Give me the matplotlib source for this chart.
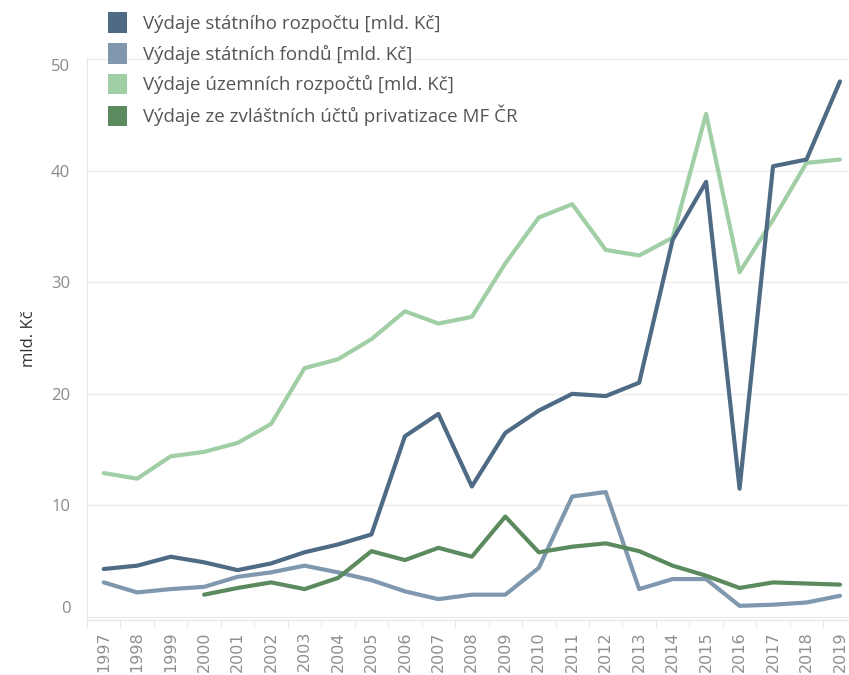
import matplotlib.pyplot as plt
from matplotlib.patches import Patch
import numpy as np

years = [str(y) for y in range(1997, 2020)]

statni_rozpocet = [4.3, 4.6, 5.4, 4.9, 4.2, 4.8, 5.8, 6.5, 7.4, 16.2, 18.2, 11.7,
                   16.5, 18.5, 20.0, 19.8, 21.0, 33.8, 39.0, 11.5, 40.4, 41.0, 48.0]
statni_fondy = [3.1, 2.2, 2.5, 2.7, 3.6, 4.0, 4.6, 4.0, 3.3, 2.3, 1.6, 2.0,
                2.0, 4.4, 10.8, 11.2, 2.5, 3.4, 3.4, 1.0, 1.1, 1.3, 1.9]
uzemni_rozpocty = [12.9, 12.4, 14.4, 14.8, 15.6, 17.3, 22.3, 23.1, 24.9, 27.4, 26.3, 26.9,
                   31.7, 35.8, 37.0, 32.9, 32.4, 34.0, 45.1, 30.9, 35.6, 40.7, 41.0]
# privatization accounts start in 2000
privatizace = [np.nan, np.nan, np.nan, 2.0, 2.6, 3.1, 2.5, 3.5, 5.9, 5.1, 6.2, 5.4,
               9.0, 5.8, 6.3, 6.6, 5.9, 4.6, 3.7, 2.6, 3.1, 3.0, 2.9]

labels = [
    "Výdaje státního rozpočtu [mld. Kč]",
    "Výdaje státních fondů [mld. Kč]",
    "Výdaje územních rozpočtů [mld. Kč]",
    "Výdaje ze zvláštních účtů privatizace MF ČR",
]
colors = ["#4e6a84", "#7f98ae", "#a0cfa5", "#5b8a5f"]

plt.rcParams["font.family"] = ["Open Sans", "DejaVu Sans"]

fig = plt.figure(figsize=(8.49, 6.75), dpi=100)
ax = fig.add_axes([87 / 849, 55 / 675, 762 / 849, (620 - 58) / 675])

x = np.arange(len(years))
series = [statni_rozpocet, statni_fondy, uzemni_rozpocty, privatizace]
order = [2, 1, 3, 0]  # draw order: dark line on top
for i in order:
    ax.plot(x, series[i], color=colors[i], linewidth=3.0, solid_capstyle="round",
            solid_joinstyle="round", zorder=3 + (i == 0))

ax.set_xlim(-0.48, 22.27)
ax.set_ylim(-0.27, 50.1)
ax.set_yticks([0, 10, 20, 30, 40, 50])
ax.set_xticks(x)
ax.set_xticklabels(years, rotation=90, fontsize=11.5, color="#8f8f8f", family="DejaVu Sans")
ax.set_xticks(np.arange(-0.5, 22.5, 1), minor=True)
ax.tick_params(axis="x", which="major", length=0, pad=8)
ax.tick_params(axis="x", which="minor", length=6, color="#e6e6e6")
ax.tick_params(axis="y", length=0, labelsize=12, labelcolor="#8a8a8a", pad=12)
ax.set_ylabel("mld. Kč", fontsize=12, color="#333333", labelpad=10)

# Tableau keeps the edge labels inside the pane
ylabels = ax.get_yticklabels()
ylabels[0].set_verticalalignment("bottom")
ylabels[-1].set_verticalalignment("top")

ax.grid(axis="y", color="#ececec", linewidth=1)
ax.set_axisbelow(True)
for side in ["top", "right"]:
    ax.spines[side].set_visible(False)
for side in ["left", "bottom"]:
    ax.spines[side].set_color("#e6e6e6")

handles = [Patch(facecolor=c, edgecolor="none") for c in colors]
fig.legend(handles, labels, loc="upper left", bbox_to_anchor=(93 / 849, 1.004),
           frameon=False, fontsize=13.5, labelcolor="#555555",
           handlelength=1.0, handleheight=1.3, handletextpad=0.85, labelspacing=0.55,
           borderpad=0.3)

fig.savefig("out.png", dpi=100)
